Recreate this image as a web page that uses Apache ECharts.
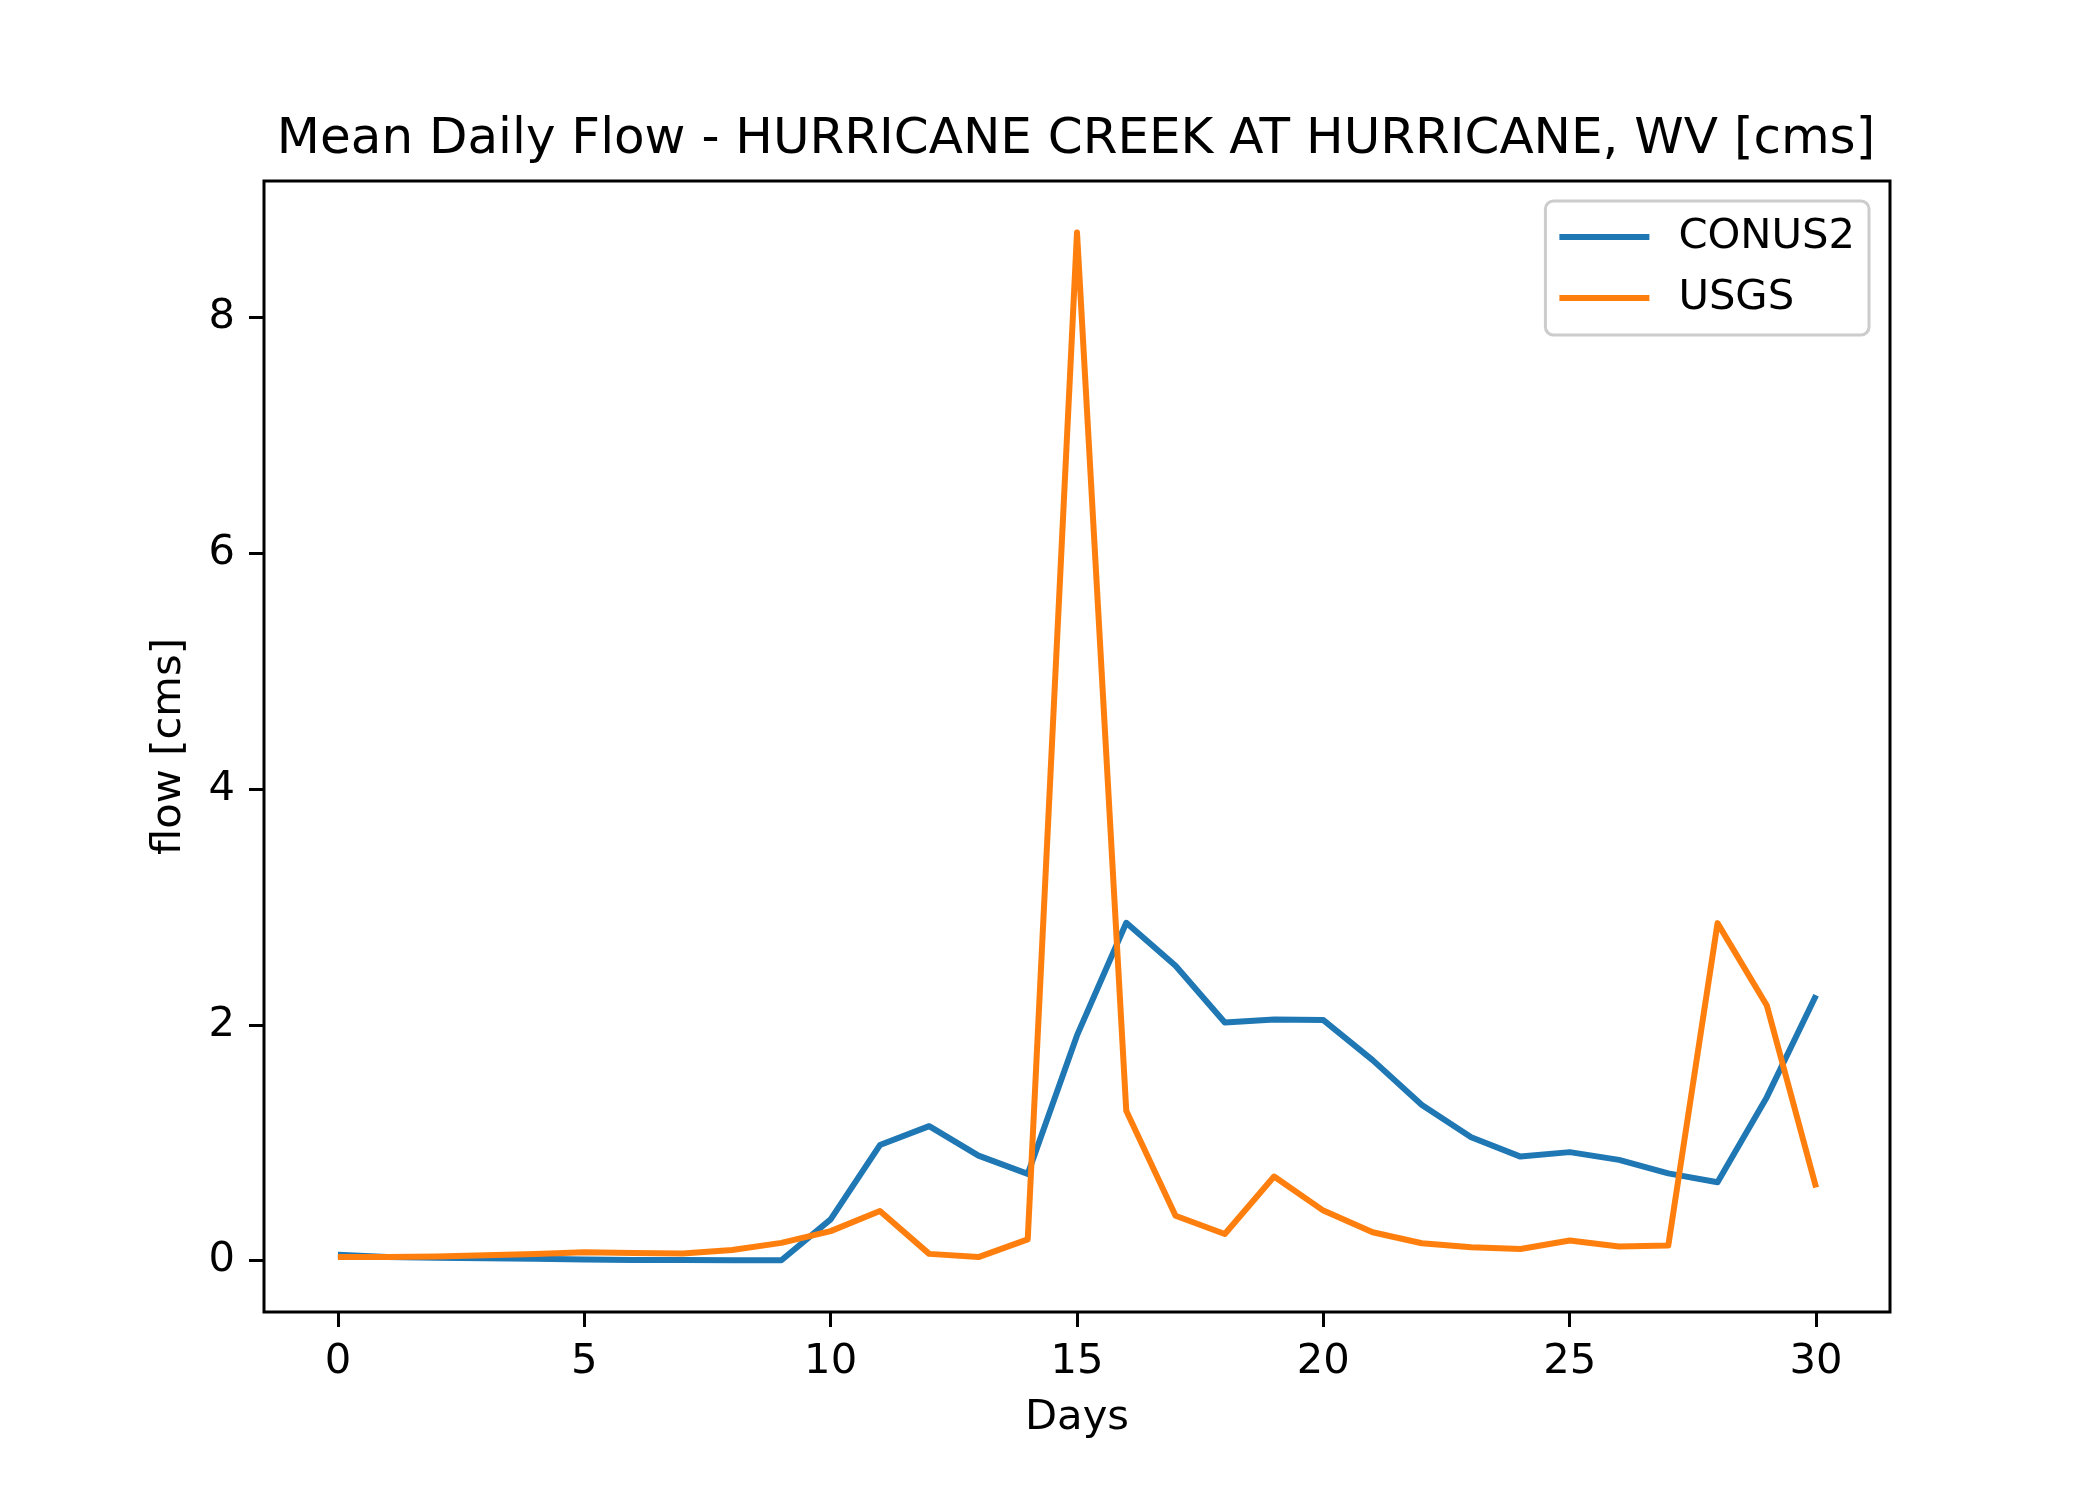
<!DOCTYPE html>
<html>
<head>
<meta charset="utf-8">
<script src="https://cdn.jsdelivr.net/npm/echarts@6/dist/echarts.min.js"></script>
<style>
    html, body { margin: 0; padding: 0; background: #fff; }
    #chart { width: 2100px; height: 1500px; }
</style>
</head>
<body>
<div id="chart"></div>
<script>
// days of the month (x axis)
let days = [0, 1, 2, 3, 4, 5, 6, 7, 8, 9, 10, 11, 12, 13, 14, 15,
    16, 17, 18, 19, 20, 21, 22, 23, 24, 25, 26, 27, 28, 29, 30];

// mean daily flow [cms]
let conus2 = [0.05, 0.03, 0.025, 0.02, 0.015, 0.01, 0.005, 0.005, 0.003, 0.003,
    0.35, 0.98, 1.14, 0.89, 0.735, 1.91, 2.865, 2.50, 2.02, 2.045,
    2.04, 1.70, 1.32, 1.046, 0.882, 0.92, 0.854, 0.74, 0.665, 1.386, 2.25];
let usgs = [0.03, 0.03, 0.035, 0.045, 0.055, 0.07, 0.065, 0.06, 0.09, 0.15,
    0.25, 0.42, 0.057, 0.03, 0.18, 8.72, 1.27, 0.38, 0.226, 0.713,
    0.424, 0.24, 0.147, 0.113, 0.099, 0.17, 0.119, 0.127, 2.862, 2.164, 0.62];

let xTicks = [0, 5, 10, 15, 20, 25, 30];
let yTicks = [0, 2, 4, 6, 8];

let seriesNames = ['CONUS2', 'USGS'];
let seriesColors = ['#1f77b4', '#ff7f0e'];

function pairs(values) {
    return days.map(function (d, i) {
        return [d, values[i]];
    });
}

let font = 'DejaVu Sans';
let chart = echarts.init(document.getElementById('chart'));

let option = {
    backgroundColor: '#fff',
    animation: false,
    title: {
        text: 'Mean Daily Flow - HURRICANE CREEK AT HURRICANE, WV [cms]',
        left: 1071,
        textAlign: 'center',
        top: 110,
        textStyle: {
            fontFamily: font,
            fontSize: 50,
            fontWeight: 'normal',
            color: '#000'
        }
    },
    grid: {
        left: 264,
        right: 210,
        top: 181,
        bottom: 188,
        show: true,
        borderColor: '#000',
        borderWidth: 3,
        backgroundColor: '#fff'
    },
    legend: {
        orient: 'vertical',
        right: 231,
        top: 201,
        padding: [12, 14, 13, 14],
        itemWidth: 90,
        itemHeight: 6,
        itemGap: 13,
        borderColor: '#cccccc',
        borderWidth: 3,
        borderRadius: 8,
        backgroundColor: '#fff',
        textStyle: {
            fontFamily: font,
            fontSize: 41.7,
            color: '#000',
            lineHeight: 48,
            padding: [0, 0, 0, 24]
        },
        data: seriesNames.map(function (name) {
            return {name: name, icon: 'rect'};
        })
    },
    xAxis: {
        type: 'value',
        min: -1.5,
        max: 31.5,
        name: 'Days',
        nameLocation: 'middle',
        nameGap: 85,
        nameTextStyle: {fontFamily: font, fontSize: 41.7, color: '#000'},
        axisLine: {show: false, onZero: false},
        splitLine: {show: false},
        axisTick: {
            show: true,
            length: 15,
            customValues: xTicks,
            lineStyle: {color: '#000', width: 3}
        },
        axisLabel: {
            margin: 29,
            customValues: xTicks,
            fontFamily: font,
            fontSize: 41.7,
            color: '#000'
        }
    },
    yAxis: {
        type: 'value',
        min: -0.436,
        max: 9.156,
        name: 'flow [cms]',
        nameLocation: 'middle',
        nameGap: 74,
        nameRotate: 90,
        nameTextStyle: {fontFamily: font, fontSize: 41.7, color: '#000'},
        axisLine: {show: false, onZero: false},
        splitLine: {show: false},
        axisTick: {
            show: true,
            length: 15,
            customValues: yTicks,
            lineStyle: {color: '#000', width: 3}
        },
        axisLabel: {
            margin: 29,
            customValues: yTicks,
            fontFamily: font,
            fontSize: 41.7,
            color: '#000'
        }
    },
    series: [
        {
            name: seriesNames[0],
            type: 'line',
            data: pairs(conus2),
            showSymbol: false,
            symbol: 'none',
            color: seriesColors[0],
            lineStyle: {width: 6, color: seriesColors[0], join: 'round'}
        },
        {
            name: seriesNames[1],
            type: 'line',
            data: pairs(usgs),
            showSymbol: false,
            symbol: 'none',
            color: seriesColors[1],
            lineStyle: {width: 6, color: seriesColors[1], join: 'round'}
        }
    ]
};

chart.setOption(option);
</script>
</body>
</html>
